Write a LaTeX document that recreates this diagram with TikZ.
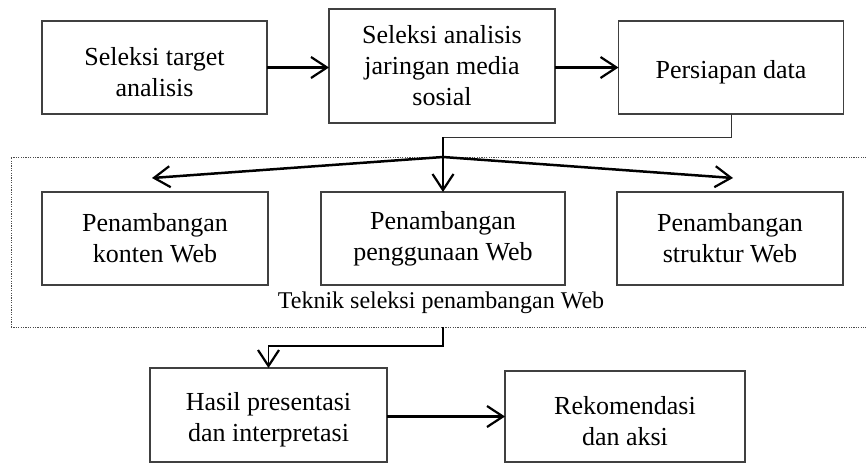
\documentclass[tikz,border=0pt]{standalone}
\usepackage{fontspec}
\setmainfont{Liberation Serif}
\usetikzlibrary{arrows.meta,calc}
\newcommand{\lowstrut}{\rule{0pt}{27pt}}
\begin{document}
\begin{tikzpicture}[x=1pt,y=-1pt,
  box/.style={draw=black!75, line width=1.1pt, fill=white, align=center,
    inner sep=0pt, outer sep=0pt, font=\fontsize{26}{31}\selectfont},
  flow/.style={line width=2.5pt, black, -{Straight Barb[length=16pt,width=21pt,line width=2.2pt]}},
  thinline/.style={line width=1pt, black!80},
  thinflow/.style={line width=1.3pt, black, -{Straight Barb[length=16pt,width=21pt,line width=2.2pt]}},
  dotbox/.style={draw=black!70, line width=0.8pt, dash pattern=on 1.2pt off 1.2pt,
    inner sep=0pt, outer sep=0pt},
  lbl/.style={font=\fontsize{24}{28}\selectfont, inner sep=0pt}]
\useasboundingbox (0,0) rectangle (866,464);

% dotted frame (right edge lies beyond the picture)
\node[dotbox, minimum width=860pt, minimum height=170pt] (frame) at (441,242) {};
\node[lbl] (frametxt) at (441,303) {Teknik seleksi penambangan Web};

% top row
\node[box, minimum width=225pt, minimum height=93pt] (b1) at (154.5,67.5) {\lowstrut Seleksi target\\analisis};
\node[box, minimum width=226pt, minimum height=114pt] (b2) at (442,66) {Seleksi analisis\\jaringan media\\sosial};
\node[box, minimum width=225pt, minimum height=93pt] (b3) at (731,67.5) {\lowstrut Persiapan data};

% middle row
\node[box, minimum width=226pt, minimum height=93pt] (b4) at (155,238.5) {Penambangan\\konten Web};
\node[box, minimum width=244pt, minimum height=93pt] (b5) at (443,238.5) {Penambangan\\penggunaan Web};
\node[box, minimum width=226pt, minimum height=93pt] (b6) at (730,238.5) {Penambangan\\struktur Web};

% bottom row
\node[box, minimum width=237pt, minimum height=94pt] (b7) at (268.5,415) {\lowstrut Hasil presentasi\\dan interpretasi};
\node[box, minimum width=240pt, minimum height=91pt] (b8) at (625,416.5) {\lowstrut Rekomendasi\\dan aksi};

% helper points
\coordinate (k1) at (443,137);
\coordinate (br) at (443,157);
\coordinate (tipL) at (152,178);
\coordinate (tipR) at (733,178);

% connectors
\draw[flow] (b1.east |- b3.west) -- (b2.west |- b3.west);
\draw[flow] (b2.east |- b3.west) -- (b3.west);
\draw[thinline] (b3.south) |- (k1);
\draw[flow] (k1) -- (b5.north);
\draw[flow] (br) -- (tipL);
\draw[flow] (br) -- (tipR);
\draw[thinflow] (b5.south |- frame.south) -- ++(0,19) -| (b7.north);
\draw[flow] (b7.east |- b8.west) -- (b8.west);
\end{tikzpicture}
\end{document}
